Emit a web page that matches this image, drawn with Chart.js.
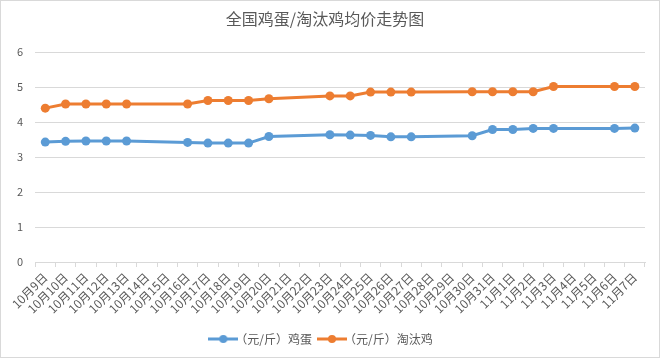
<!DOCTYPE html>
<html>
<head>
<meta charset="utf-8">
<script src="https://cdn.jsdelivr.net/npm/chart.js@4"></script>
<style>
  html, body { margin: 0; padding: 0; background: #fff; }
  #wrap { position: relative; width: 660px; height: 358px; box-sizing: border-box; border: 1px solid #d9d9d9; }
</style>
</head>
<body>
<div id="wrap"><canvas id="priceChart"></canvas></div>
<script>
'use strict';

const DAYS = [
  '10月9日', '10月10日', '10月11日', '10月12日', '10月13日', '10月14日', '10月15日',
  '10月16日', '10月17日', '10月18日', '10月19日', '10月20日', '10月21日', '10月22日',
  '10月23日', '10月24日', '10月25日', '10月26日', '10月27日', '10月28日', '10月29日',
  '10月30日', '10月31日', '11月1日', '11月2日', '11月3日', '11月4日', '11月5日',
  '11月6日', '11月7日'
];

// null = no quote that day, the line spans it
const EGG_PRICES = [
  3.43, 3.45, 3.46, 3.46, 3.46, null, null,
  3.42, 3.40, 3.40, 3.40, 3.59, null, null,
  3.64, 3.63, 3.62, 3.58, 3.58, null, null,
  3.61, 3.79, 3.79, 3.82, 3.82, null, null,
  3.82, 3.83
];

const HEN_PRICES = [
  4.40, 4.52, 4.52, 4.52, 4.52, null, null,
  4.52, 4.62, 4.62, 4.62, 4.67, null, null,
  4.75, 4.75, 4.86, 4.86, 4.86, null, null,
  4.87, 4.87, 4.87, 4.87, 5.02, null, null,
  5.02, 5.02
];

const Y_TICKS = [0, 1, 2, 3, 4, 5, 6];

const BLUE = '#5b9bd5';
const ORANGE = '#ed7d31';
const TEXT = '#595959';
const FONT = '"Noto Sans CJK SC", "Noto Sans", sans-serif';

function legendMarker(color) {
  const c = document.createElement('canvas');
  c.width = 30;
  c.height = 10;
  const ctx = c.getContext('2d');
  ctx.strokeStyle = color;
  ctx.lineWidth = 3;
  ctx.beginPath();
  ctx.moveTo(0, 5);
  ctx.lineTo(30, 5);
  ctx.stroke();
  ctx.fillStyle = color;
  ctx.beginPath();
  ctx.arc(15, 5, 4, 0, Math.PI * 2);
  ctx.fill();
  return c;
}

const markers = [legendMarker(BLUE), legendMarker(ORANGE)];

new Chart(document.getElementById('priceChart'), {
  type: 'line',
  data: {
    labels: DAYS,
    datasets: [
      {
        label: '（元/斤）鸡蛋',
        data: EGG_PRICES,
        borderColor: BLUE,
        backgroundColor: BLUE,
        borderWidth: 3,
        pointRadius: 4.5,
        pointBorderWidth: 0,
        spanGaps: true,
        tension: 0
      },
      {
        label: '（元/斤）淘汰鸡',
        data: HEN_PRICES,
        borderColor: ORANGE,
        backgroundColor: ORANGE,
        borderWidth: 3,
        pointRadius: 4.5,
        pointBorderWidth: 0,
        spanGaps: true,
        tension: 0
      }
    ]
  },
  options: {
    responsive: true,
    maintainAspectRatio: false,
    animation: false,
    layout: { padding: { left: 4, right: 14, top: 6, bottom: 2 } },
    scales: {
      x: {
        offset: true,
        grid: {
          offset: true,
          drawOnChartArea: false,
          drawTicks: true,
          tickLength: 5,
          color: '#d9d9d9'
        },
        border: { color: '#d9d9d9' },
        ticks: {
          autoSkip: false,
          minRotation: 45,
          maxRotation: 45,
          color: TEXT,
          padding: 3,
          font: { family: FONT, size: 12 }
        }
      },
      y: {
        min: 0,
        max: 6,
        afterBuildTicks: function (axis) {
          axis.ticks = Y_TICKS.map(function (v) { return { value: v }; });
        },
        grid: { color: '#d9d9d9', drawTicks: false },
        border: { display: false },
        ticks: {
          color: TEXT,
          padding: 12,
          font: { family: FONT, size: 11 }
        }
      }
    },
    plugins: {
      title: {
        display: true,
        text: '全国鸡蛋/淘汰鸡均价走势图',
        color: TEXT,
        font: { family: FONT, size: 16, weight: 'normal' },
        padding: { top: 2, bottom: 24 }
      },
      legend: {
        position: 'bottom',
        labels: {
          usePointStyle: true,
          color: TEXT,
          padding: 14,
          font: { family: FONT, size: 12 },
          generateLabels: function (chart) {
            return chart.data.datasets.map(function (ds, i) {
              return {
                text: ds.label,
                pointStyle: markers[i],
                fontColor: TEXT,
                datasetIndex: i,
                hidden: false,
                lineWidth: 0
              };
            });
          }
        }
      },
      tooltip: { enabled: false }
    }
  }
});
</script>
</body>
</html>
